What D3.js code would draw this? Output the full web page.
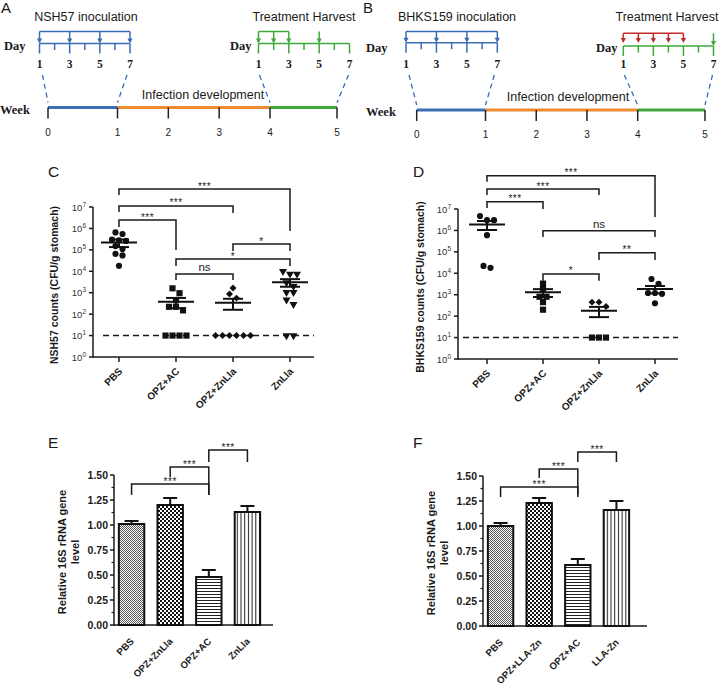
<!DOCTYPE html>
<html>
<head>
<meta charset="utf-8">
<script src="https://cdn.jsdelivr.net/npm/d3@7"></script>
<style>
  body { margin: 0; background: #fff; }
  svg { display: block; }
  text { font-family: "Liberation Sans", Arial, Helvetica, sans-serif; fill: #1a1a1a; }
</style>
</head>
<body>
<svg id="fig" width="720" height="686"></svg>
<script>
// ---------- A / B : schedule ----------
var weekTicks = [0, 1, 2, 3, 4, 5];
var dayTicks = [1, 2, 3, 4, 5, 6, 7];
var dayLabels = [1, 3, 5, 7];
var phaseStart = [0, 1, 4];
var phaseEnd = [1, 4, 5];
var inocDays = [1, 3, 5, 7];
var treatDaysA = [1, 2, 3], harvestDayA = 5;
var treatDaysB = [1, 2, 3, 4, 5], harvestDayB = 7;

// ---------- C / D : CFU per g stomach (10 = detection limit) ----------
var groupsCD = ["PBS", "OPZ+AC", "OPZ+ZnLla", "ZnLla"];
var detectionLimit = 10;
var nshPBS = [6.5e5, 5.5e5, 3.0e5, 2.8e5, 2.6e5, 1.5e5, 1.1e5, 6.5e4, 5.5e4, 1.8e4];
var nshAC = [1600, 950, 450, 220, 220, 150, 10, 10, 10, 10];
var nshOpzZn = [1650, 870, 560, 10, 10, 10, 10, 10, 10];
var nshZnLla = [10000, 7500, 7500, 3000, 2000, 1050, 1050, 470, 290, 10, 10];
var nshMean = [2.2e5, 380, 340, 3100];
var nshSem = [0.85e5, 190, 180, 1200];

var bhkPBS = [4.7e6, 3.0e6, 3.0e6, 6.0e5, 1.8e4, 2.2e4];
var bhkAC = [3300, 1900, 800, 800, 450, 200];
var bhkOpzZn = [450, 450, 280, 10, 10, 10];
var bhkZnLla = [5400, 3200, 1200, 1100, 1200, 400];
var bhkMean = [1.9e6, 1300, 180, 1850];
var bhkSem = [0.85e6, 520, 90, 700];

var compC = [["PBS", "ZnLla", "***"], ["PBS", "OPZ+ZnLla", "***"], ["PBS", "OPZ+AC", "***"],
             ["OPZ+ZnLla", "ZnLla", "*"], ["OPZ+AC", "ZnLla", "*"], ["OPZ+AC", "OPZ+ZnLla", "ns"]];
var compD = [["PBS", "ZnLla", "***"], ["PBS", "OPZ+ZnLla", "***"], ["PBS", "OPZ+AC", "***"],
             ["OPZ+AC", "ZnLla", "ns"], ["OPZ+ZnLla", "ZnLla", "**"], ["OPZ+AC", "OPZ+ZnLla", "*"]];

// ---------- E / F : relative 16S rRNA ----------
var groupsE = ["PBS", "OPZ+ZnLla", "OPZ+AC", "ZnLla"];
var rnaE = [1.01, 1.20, 0.48, 1.13];
var rnaESem = [0.03, 0.07, 0.07, 0.06];
var groupsF = ["PBS", "OPZ+LLA-Zn", "OPZ+AC", "LLA-Zn"];
var rnaF = [1.00, 1.23, 0.61, 1.16];
var rnaFSem = [0.03, 0.05, 0.06, 0.09];
var compE = [["OPZ+AC", "ZnLla", "***"], ["OPZ+ZnLla", "OPZ+AC", "***"], ["PBS", "OPZ+AC", "***"]];
var compF = [["OPZ+AC", "LLA-Zn", "***"], ["OPZ+LLA-Zn", "OPZ+AC", "***"], ["PBS", "OPZ+AC", "***"]];
var rnaTicks = [0, 0.25, 0.5, 0.75, 1.0, 1.25, 1.5];

var svg = d3.select("#fig");
var blue = "#3b6db4", orange = "#ee8a30", green = "#3ea83a", red = "#c42a2a";
var serif = '"Liberation Serif", "Times New Roman", serif';
var phaseColors = [blue, orange, green];

function txt(g, s, x, y, size, opts) {
  opts = opts || {};
  return g.append("text").attr("x", x).attr("y", y)
    .attr("text-anchor", opts.anchor || "start")
    .style("font-size", size + "px")
    .style("font-weight", opts.bold ? "bold" : "normal")
    .style("font-family", opts.serif ? serif : null)
    .text(s);
}

function vline(g, x, y1, y2, color, w) {
  g.append("line").attr("x1", x).attr("x2", x).attr("y1", y1).attr("y2", y2)
    .attr("stroke", color).attr("stroke-width", w || 1.5);
}
function hline(g, x1, x2, y, color, w) {
  g.append("line").attr("x1", x1).attr("x2", x2).attr("y1", y).attr("y2", y)
    .attr("stroke", color).attr("stroke-width", w || 1.5);
}

function arrowDown(g, x, top, tip, color) {
  vline(g, x, top, tip - 3, color, 1.5);
  g.append("path").attr("d", "M" + (x - 2.6) + "," + (tip - 5) + "L" + (x + 2.6) + "," + (tip - 5) + "L" + x + "," + tip + "Z")
    .attr("fill", color);
}

function dayRuler(g, day, axisY, color) {
  hline(g, day(1), day(7), axisY, color);
  dayTicks.forEach(function(d) {
    vline(g, day(d), axisY, axisY + (d % 2 ? 10 : 6.5), color);
  });
  dayLabels.forEach(function(d) {
    txt(g, d, day(d), 68, 11.5, {anchor: "middle", serif: true, bold: true});
  });
}

function schedule(s) {
  var g = svg.append("g");
  txt(g, s.letter, s.letterX, 13, 15);
  // week line
  phaseStart.forEach(function(p, i) {
    hline(g, s.week(p), s.week(phaseEnd[i]), s.weekY, phaseColors[i], 3);
  });
  weekTicks.forEach(function(w) {
    vline(g, s.week(w), s.weekY, s.weekY + 11, "#222", 1.5);
    txt(g, w, s.week(w), s.weekY + 28, 10, {anchor: "middle"});
  });
  txt(g, "Week", s.weekLabelX, s.weekY + 6, 12.5, {serif: true, bold: true});
  txt(g, "Infection development", s.infX, s.weekY - 9, 12.5, {anchor: "middle"});

  // inoculation days
  txt(g, s.inocTitle, s.inocTitleX, 21, 12.5, {anchor: "middle"});
  txt(g, "Day", s.dayLX, s.dayLabelY, 12.5, {serif: true, bold: true});
  hline(g, s.dayIn(1), s.dayIn(7), s.inTop, blue);
  inocDays.forEach(function(d) { arrowDown(g, s.dayIn(d), s.inTop, s.inAxis, blue); });
  dayRuler(g, s.dayIn, s.inAxis, blue);

  // treatment / harvest days
  txt(g, "Treatment Harvest", s.treatTitleX, 21, 12.5, {anchor: "middle"});
  txt(g, "Day", s.dayRX, s.dayLabelY, 12.5, {serif: true, bold: true});
  var td = s.treatDays;
  hline(g, s.dayTr(td[0]), s.dayTr(td[td.length - 1]), s.trTop, s.treatColor);
  td.forEach(function(d) { arrowDown(g, s.dayTr(d), s.trTop, s.treatTip, s.treatColor); });
  arrowDown(g, s.dayTr(s.harvestDay), s.harvestTop, s.trAxis, green);
  dayRuler(g, s.dayTr, s.trAxis, green);

  // dashed connectors from the day rulers to the week line
  var conn = [[s.dayIn(1) + 3, s.week(0)], [s.dayIn(7) - 3, s.week(1)],
              [s.dayTr(1) + 1, s.week(4)], [s.dayTr(7) - 1, s.week(5)]];
  conn.forEach(function(c) {
    g.append("line").attr("x1", c[0]).attr("y1", 75).attr("x2", c[1]).attr("y2", s.weekY - 5)
      .attr("stroke", blue).attr("stroke-width", 1.3).attr("stroke-dasharray", "5,4");
  });
}

schedule({
  letter: "A", letterX: 1,
  week: d3.scaleLinear().domain([0, 1, 4, 5]).range([48, 117.5, 270, 337]), weekY: 107.5,
  weekLabelX: 0, infX: 203,
  inocTitle: "NSH57 inoculation", inocTitleX: 86, treatTitleX: 304,
  dayIn: d3.scaleLinear().domain([1, 7]).range([39.5, 130]), inTop: 31.5, inAxis: 43.5,
  dayTr: d3.scaleLinear().domain([1, 7]).range([258.5, 349.5]), trTop: 31.5, trAxis: 43.5,
  treatTip: 43.5, treatColor: green, treatDays: treatDaysA, harvestDay: harvestDayA, harvestTop: 31.5,
  dayLX: 4, dayRX: 230, dayLabelY: 50
});
schedule({
  letter: "B", letterX: 363,
  week: d3.scaleLinear().domain([0, 1, 4, 5]).range([416.7, 485.5, 637.7, 705]), weekY: 110,
  weekLabelX: 366, infX: 568,
  inocTitle: "BHKS159 inoculation", inocTitleX: 457, treatTitleX: 667,
  dayIn: d3.scaleLinear().domain([1, 7]).range([406, 497.3]), inTop: 31.5, inAxis: 42.7,
  dayTr: d3.scaleLinear().domain([1, 7]).range([623.3, 713.5]), trTop: 33.3, trAxis: 46,
  treatTip: 43, treatColor: red, treatDays: treatDaysB, harvestDay: harvestDayB, harvestTop: 33.3,
  dayLX: 366, dayRX: 596, dayLabelY: 52
});

// ---------- scatter panels ----------
function symbolPath(name) {
  if (name === "circle") return {d: d3.symbol(d3.symbolCircle, 30)(), r: 0};
  if (name === "square") return {d: d3.symbol(d3.symbolSquare, 38)(), r: 0};
  if (name === "diamond") return {d: d3.symbol(d3.symbolSquare, 24)(), r: 45};
  return {d: d3.symbol(d3.symbolTriangle, 28)(), r: 180};
}

function spread(vals, cx, y) {
  var pts = vals.map(function(v) { return {v: v, y: y(v)}; }).sort(function(a, b) { return a.y - b.y; });
  var rows = [], cur = null;
  pts.forEach(function(p) {
    if (cur && p.y - cur[0].y < 5) cur.push(p); else { cur = [p]; rows.push(cur); }
  });
  rows.forEach(function(r) {
    r.forEach(function(p, i) { p.x = cx + (i - (r.length - 1) / 2) * 7; });
  });
  return pts;
}

function bracket(g, x1, x2, yTop, yL, yR, lab) {
  g.append("path").attr("d", "M" + x1 + "," + yL + "V" + yTop + "H" + x2 + "V" + yR)
    .attr("fill", "none").attr("stroke", "#1a1a1a").attr("stroke-width", 1.5);
  if (lab === "ns") txt(g, lab, (x1 + x2) / 2, yTop - 3, 11.5, {anchor: "middle"});
  else txt(g, lab, (x1 + x2) / 2, yTop + 0.5, 10, {anchor: "middle"}).style("letter-spacing", "0.5px");
}

function scatterPanel(c) {
  var g = svg.append("g");
  var y = d3.scaleLog().domain([1, 1e7]).range([c.yBot, c.yTop]);
  var x = d3.scalePoint().domain(c.groups).range(c.xr);
  txt(g, c.letter, c.letterX, 177, 15.5);

  // axes
  vline(g, c.x0, c.yTop, c.yBot + 0.75, "#1a1a1a", 1.5);
  hline(g, c.x0, c.x1, c.yBot, "#1a1a1a", 1.5);
  d3.range(0, 8).forEach(function(e) {
    var v = Math.pow(10, e);
    hline(g, c.x0 - 4, c.x0, y(v), "#1a1a1a", 1.5);
    var t = g.append("text").attr("x", c.x0 - 7).attr("y", y(v) + 3.5).attr("text-anchor", "end")
      .style("font-size", "9.5px").style("fill", "#333");
    t.append("tspan").text("10");
    t.append("tspan").attr("dy", -4).style("font-size", "6.5px").text(e);
  });
  c.groups.forEach(function(gr) {
    vline(g, x(gr), c.yBot, c.yBot + 5, "#1a1a1a", 1.5);
    txt(g, gr, x(gr) + 4, c.yBot + 15, 10, {anchor: "end", bold: true})
      .attr("transform", "rotate(-45," + (x(gr) + 4) + "," + (c.yBot + 15) + ")");
  });
  txt(g, c.ylabel, 0, 0, 10.5, {anchor: "middle", bold: true})
    .attr("transform", "translate(" + c.ylabelX + "," + ((c.yTop + c.yBot) / 2 + 3) + ") rotate(-90)");

  // detection limit
  g.append("line").attr("x1", c.lodFrom).attr("x2", c.x1).attr("y1", y(detectionLimit)).attr("y2", y(detectionLimit))
    .attr("stroke", "#1a1a1a").attr("stroke-width", 1.5).attr("stroke-dasharray", "6,4");

  // points
  c.series.forEach(function(vals, i) {
    var cx = x(c.groups[i]);
    spread(vals, cx, y).forEach(function(p) {
      var s = symbolPath(p.v <= detectionLimit ? c.lodSymbols[i] : c.symbols[i]);
      g.append("path").attr("d", s.d).attr("fill", "#111")
        .attr("transform", "translate(" + p.x + "," + p.y + ") rotate(" + s.r + ")");
    });
    var m = c.mean[i], se = c.sem[i];
    hline(g, cx - 18, cx + 18, y(m), "#111", 2);
    vline(g, cx, y(m + se), y(m - se), "#111", 2);
    hline(g, cx - 10, cx + 10, y(m + se), "#111", 2);
    hline(g, cx - 10, cx + 10, y(m - se), "#111", 2);
  });

  // significance brackets (levels in log10 units)
  c.comps.forEach(function(k, i) {
    var L = c.levels[i];
    bracket(g, x(k[0]), x(k[1]), y(Math.pow(10, L[0])), y(Math.pow(10, L[1])), y(Math.pow(10, L[2])), k[2]);
  });
}

scatterPanel({
  letter: "C", letterX: 48, x0: 93, x1: 314, yTop: 207, yBot: 357, xr: [119, 290],
  groups: groupsCD, series: [nshPBS, nshAC, nshOpzZn, nshZnLla], mean: nshMean, sem: nshSem,
  symbols: ["circle", "square", "diamond", "triangle"], lodSymbols: ["circle", "square", "diamond", "triangle"],
  ylabel: "NSH57 counts (CFU/g stomach)", ylabelX: 58, lodFrom: 103,
  comps: compC,
  levels: [[7.84, 7.56, 5.88], [7.05, 6.77, 6.72], [6.39, 6.07, 4.99], [5.27, 4.95, 4.95], [4.57, 4.25, 4.25], [3.87, 3.59, 3.59]]
});
scatterPanel({
  letter: "D", letterX: 413, x0: 458, x1: 678, yTop: 209, yBot: 359, xr: [487, 655],
  groups: groupsCD, series: [bhkPBS, bhkAC, bhkOpzZn, bhkZnLla], mean: bhkMean, sem: bhkSem,
  symbols: ["circle", "square", "diamond", "circle"], lodSymbols: ["circle", "square", "square", "circle"],
  ylabel: "BHKS159 counts (CFU/g stomach)", ylabelX: 424, lodFrom: 463,
  comps: compD,
  levels: [[8.55, 8.27, 6.63], [7.93, 7.65, 7.65], [7.34, 7.05, 7.0], [5.99, 5.69, 5.69], [4.96, 4.62, 4.62], [3.97, 3.65, 3.65]]
});

// ---------- bar panels ----------
var defs = svg.append("defs");
function pattern(id, w, h, draw) {
  var p = defs.append("pattern").attr("id", id).attr("patternUnits", "userSpaceOnUse").attr("width", w).attr("height", h);
  p.append("rect").attr("width", w).attr("height", h).attr("fill", "#fff");
  draw(p);
}
pattern("fine", 2, 2, function(p) {
  p.append("rect").attr("width", 1).attr("height", 1).attr("fill", "#555");
  p.append("rect").attr("x", 1).attr("y", 1).attr("width", 1).attr("height", 1).attr("fill", "#555");
});
pattern("checker", 4, 4, function(p) {
  p.append("rect").attr("width", 2).attr("height", 2).attr("fill", "#111");
  p.append("rect").attr("x", 2).attr("y", 2).attr("width", 2).attr("height", 2).attr("fill", "#111");
});
pattern("hlines", 4, 3, function(p) {
  p.append("rect").attr("width", 4).attr("height", 1).attr("fill", "#222");
});
pattern("vlines", 3.7, 4, function(p) {
  p.append("rect").attr("width", 1).attr("height", 4).attr("fill", "#222");
});
var barFills = ["url(#fine)", "url(#checker)", "url(#hlines)", "url(#vlines)"];

function barPanel(c) {
  var g = svg.append("g");
  var y = d3.scaleLinear().domain([0, 1.5]).range([c.yBot, c.yTop]);
  var x = d3.scaleBand().domain(c.groups).range(c.xr).paddingInner(0.29).paddingOuter(0.1);
  txt(g, c.letter, c.letterX, 448, 15.5);

  vline(g, c.x0, y(1.5), y(0) + 0.75, "#1a1a1a", 1.5);
  hline(g, c.x0, c.x1, y(0), "#1a1a1a", 1.5);
  rnaTicks.forEach(function(v, i) {
    hline(g, c.x0 - 4, c.x0, y(v), "#1a1a1a", 1.5);
    txt(g, d3.format(".2f")(v), c.x0 - 6, y(v) + 4, 10.5, {anchor: "end", bold: true});
    if (i < rnaTicks.length - 1) hline(g, c.x0 - 2.5, c.x0, y((v + rnaTicks[i + 1]) / 2), "#1a1a1a", 1.2);
  });
  var yl = g.append("text").attr("transform", "translate(" + c.ylabelX + "," + (y(0.75) + 2) + ") rotate(-90)")
    .attr("text-anchor", "middle").style("font-size", "11px").style("font-weight", "bold");
  yl.append("tspan").attr("x", 0).attr("y", 0).text("Relative 16S rRNA gene");
  yl.append("tspan").attr("x", 0).attr("y", 13).text("level");

  c.groups.forEach(function(gr, i) {
    var bx = x(gr), bw = x.bandwidth(), cx = bx + bw / 2;
    g.append("rect").attr("x", bx + 1).attr("y", y(c.values[i])).attr("width", bw - 2)
      .attr("height", y(0) - y(c.values[i])).attr("fill", barFills[i])
      .attr("stroke", "#111").attr("stroke-width", 2);
    vline(g, cx, y(c.values[i]), y(c.values[i] + c.sem[i]), "#111", 2);
    hline(g, cx - 7, cx + 7, y(c.values[i] + c.sem[i]), "#111", 2);
    txt(g, gr, cx + 3, y(0) + 17, 9.6, {anchor: "end", bold: true})
      .attr("transform", "rotate(-45," + (cx + 3) + "," + (y(0) + 17) + ")");
  });

  c.comps.forEach(function(k, i) {
    var L = c.levels[i];
    var x1 = x(k[0]) + x.bandwidth() / 2, x2 = x(k[1]) + x.bandwidth() / 2;
    bracket(g, x1, x2, y(L[0]), y(L[1]), y(L[2]), k[2]);
  });
}

barPanel({
  letter: "E", letterX: 48, x0: 114, x1: 273, xr: [114, 265], yTop: 475, yBot: 625,
  groups: groupsE, values: rnaE, sem: rnaESem, ylabelX: 66,
  comps: compE, levels: [[1.75, 1.63, 1.63], [1.58, 1.48, 1.30], [1.41, 1.30, 1.30]]
});
barPanel({
  letter: "F", letterX: 413, x0: 483, x1: 647, xr: [483, 634], yTop: 476, yBot: 626,
  groups: groupsF, values: rnaF, sem: rnaFSem, ylabelX: 435,
  comps: compF, levels: [[1.74, 1.64, 1.64], [1.57, 1.48, 1.31], [1.39, 1.29, 1.29]]
});
</script>
</body>
</html>
